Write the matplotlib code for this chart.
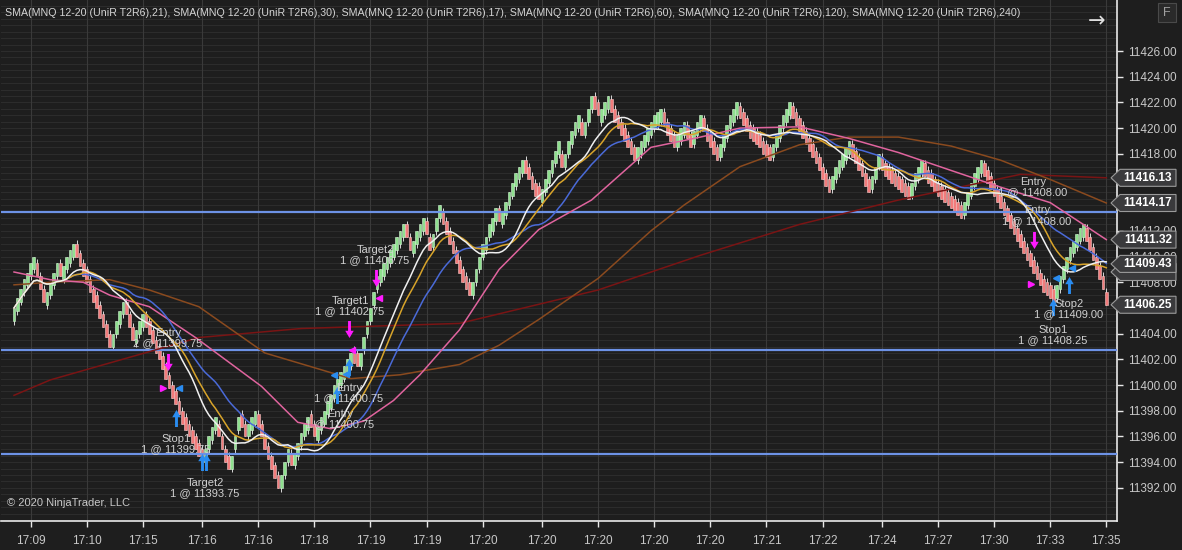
import numpy as np
import pandas as pd
import matplotlib
matplotlib.use("Agg")
import matplotlib.pyplot as plt
from matplotlib.patches import Polygon, Rectangle
from matplotlib.path import Path
from matplotlib import transforms

# ---- data ------------------------------------------------------------
base = 11400.0
# UniRenko bar closes, offset from 11400, one per bar (left to right)
close_off = [
    6.0, 6.75, 7.5, 8.25, 8.75, 9.5, 10.0,
    8.5, 7.5, 6.5,
    7.25, 8.0, 8.75, 9.5, 8.5, 9.25, 10.0, 10.5, 11.0,
    10.0, 9.25, 8.5, 8.0, 7.25, 6.5, 6.0, 5.25, 4.5, 3.75, 3.0,
    4.0, 5.0, 5.75, 6.5,
    5.5, 4.5, 3.5,
    4.25, 5.0, 5.5,
    4.5, 4.0, 3.25, 2.5, 2.0, 1.25, 0.5, -0.25, -1.0, -1.5, -2.25, -3.0, -3.5, -4.0, -4.5, -5.0, -5.5, -6.0,
    -5.0, -4.0, -3.25, -2.5,
    -4.0, -5.0, -6.0, -6.5,
    -5.5, -4.0, -2.5,
    -3.25, -4.0,
    -3.0, -2.5, -2.0,
    -3.25, -4.0, -5.0, -5.75, -6.5, -7.25, -8.0,
    -7.0, -6.0, -5.0,
    -6.25,
    -5.25, -4.5, -3.75, -3.0, -2.5,
    -3.25, -4.0,
    -3.25, -2.5, -2.0, -1.25, -0.75, 0.0, 0.5, 1.0, 1.5, 2.0, 2.5,
    1.75, 1.5,
    2.5, 3.75, 5.0, 6.0, 7.25, 8.5,
    9.0, 9.5, 10.0, 10.5, 11.0, 11.5, 12.0, 12.5,
    11.5, 10.5,
    11.25, 12.0, 12.5, 13.0,
    11.75, 10.5,
    11.75, 13.0, 14.0,
    12.5, 11.75, 11.0, 10.25, 9.5, 8.75, 8.0, 7.5, 7.0,
    8.0, 9.0, 10.0, 11.0, 11.5, 12.5, 13.0, 13.75, 12.75, 13.5, 14.25, 15.0, 15.75, 16.5, 17.0, 17.5,
    16.5, 16.0, 15.25, 14.75, 14.5,
    15.25, 16.0, 16.75, 17.5, 18.25, 19.0,
    17.0,
    18.0, 19.0, 19.75, 20.5, 21.0,
    19.5,
    20.5, 21.5, 22.5,
    21.5, 21.0,
    21.5, 22.0, 22.5,
    21.25, 20.5, 20.0, 19.5, 19.0, 18.5, 18.0, 17.5,
    18.5, 19.0, 19.5, 20.0, 20.5, 21.0, 21.25, 21.5,
    20.25, 19.5, 19.0, 18.5,
    19.5, 20.0, 20.5,
    19.25, 18.5,
    19.75, 20.5, 21.0,
    19.75, 19.0, 18.5, 18.0, 17.5,
    18.75, 19.5, 20.25, 21.0, 21.5, 22.0,
    20.75, 20.25, 19.75, 19.25, 19.0, 18.75, 18.5, 18.0, 17.75, 17.5,
    18.75, 19.5, 20.25, 21.0, 21.5, 22.0,
    20.75, 20.25, 19.75, 19.25, 18.75, 18.25, 17.75, 17.25, 16.75, 16.0, 15.5, 15.0,
    16.25, 17.0, 17.5, 18.0, 18.5, 19.0,
    17.75, 17.25, 16.75, 16.25, 15.5, 15.0,
    16.25, 17.0, 18.0,
    16.75, 16.25, 16.0, 15.75, 15.5, 15.25, 15.0, 14.75, 14.5,
    15.75, 16.5, 17.0, 17.5,
    16.25, 15.75, 15.5, 15.0, 14.75, 14.5, 14.25, 14.0, 13.75, 13.5, 13.25, 13.0,
    14.25, 15.0, 15.75, 16.5, 17.0, 17.5,
    16.25, 15.75, 15.25, 14.75, 14.25, 13.75, 13.25, 12.75, 12.25, 11.75, 11.25,
    10.75, 10.25, 9.75, 9.25, 8.75, 8.25, 7.75, 7.25, 7.0, 6.75, 6.5,
    7.75, 8.5, 9.25, 10.0, 10.75, 11.25, 11.75, 12.25, 12.5,
    11.25, 10.5, 9.75, 9.0, 8.25, 7.5, 6.25,
]

time_labels = ["17:09", "17:10", "17:15", "17:16", "17:16", "17:18", "17:19",
               "17:19", "17:20", "17:20", "17:20", "17:20", "17:20", "17:21",
               "17:22", "17:24", "17:27", "17:30", "17:33", "17:35"]
tick_bars = [5, 22, 39, 57, 74, 91, 108, 125, 142, 160, 177, 194, 211, 228,
             245, 263, 280, 297, 314, 331]

level_lines = [11413.5, 11402.75, 11394.6]

# slow SMAs (bar index, price)
sma60_bars = [0, 11, 21, 29, 41, 55, 75, 86, 96, 106, 115, 123, 135, 147, 159,
              175, 193, 208, 220, 238, 253, 268, 284, 299, 314, 331]
sma60_vals = [11408.8, 11408.2, 11408.0, 11407.0, 11406.1, 11403.7, 11399.9,
              11397.1, 11396.6, 11397.2, 11398.8, 11400.8, 11404.3, 11409.0,
              11412.1, 11414.4, 11418.5, 11419.3, 11420.0, 11420.1, 11419.2,
              11418.1, 11416.7, 11415.4, 11414.2, 11411.32]
sma120_bars = [0, 11, 29, 41, 56, 76, 93, 102, 117, 135, 147, 159, 177, 193,
               203, 220, 238, 253, 268, 284, 299, 314, 331]
sma120_vals = [11407.8, 11408.0, 11408.2, 11407.4, 11406.1, 11402.5, 11401.2,
               11400.5, 11400.8, 11401.6, 11403.1, 11405.1, 11408.3, 11412.0,
               11414.0, 11417.0, 11418.7, 11419.3, 11419.3, 11418.6, 11417.5,
               11416.0, 11414.17]
sma240_bars = [0, 11, 56, 87, 135, 177, 208, 238, 268, 305, 331]
sma240_vals = [11399.2, 11400.4, 11403.7, 11404.4, 11404.8, 11407.4, 11410.1,
               11412.5, 11414.4, 11416.4, 11416.13]

# right-axis price markers; the one at 11408.80 sits under 11409.43
marker_prices = [11416.13, 11414.17, 11411.32, 11408.80, 11409.43, 11406.25]
marker_shown = [True, True, True, False, True, True]
hidden_tick_labels = [11406, 11414, 11416]

sell_arrow_bars = [46.7, 101.5, 109.7, 309.1]
sell_arrow_prices = [11401.8, 11404.4, 11408.3, 11411.3]
buy_arrow_bars = [49.1, 56.9, 58.3, 101.5, 97.9, 319.7, 314.8]
buy_arrow_prices = [11397.4, 11394.0, 11394.0, 11401.4, 11399.2, 11407.8, 11406.1]
sell_tri_bars = [45.2, 308.2]
sell_tri_prices = [11399.8, 11407.9]
exit_tri_bars = [102.4, 110.6]
exit_tri_prices = [11402.7, 11406.8]
buy_tri_bars = [50.0, 97.0, 100.6, 315.8, 320.6]
buy_tri_prices = [11399.8, 11400.8, 11400.9, 11408.3, 11409.1]

trade_texts = ["Entry\n2 @ 11399.75", "Stop1\n1 @ 11399.75", "Target2\n1 @ 11393.75",
               "Entry\n1 @ 11400.75", "Entry\n1 @ 11400.75", "Target1\n1 @ 11402.75",
               "Target2\n1 @ 11406.75", "Entry\n1 @ 11408.00", "Entry\n1 @ 11408.00",
               "Stop2\n1 @ 11409.00", "Stop1\n1 @ 11408.25"]
trade_text_bars = [46.7, 49.1, 57.9, 101.5, 98.8, 101.8, 109.4, 308.8, 310.0,
                   319.7, 314.8]
trade_text_prices = [11403.67, 11395.42, 11391.99, 11399.39, 11397.36, 11406.16,
                     11410.12, 11415.42, 11413.2, 11405.92, 11403.9]

title_text = ", ".join("SMA(MNQ 12-20 (UniR T2R6),%d)" % p for p in [21, 30, 17, 60, 120, 240])

# ---- figure ----------------------------------------------------------
plt.rcParams['font.family'] = ['Liberation Sans', 'DejaVu Sans']
BG = "#1e1e1e"
W, H = 1182, 550
fig = plt.figure(figsize=(W / 100, H / 100), dpi=100, facecolor=BG)
ax = fig.add_axes([1 / W, 29 / H, 1116 / W, 521 / H], facecolor=BG)

closes = base + np.array(close_off)
n = len(closes)
idx = np.arange(n)
prev = np.r_[closes[0] - 0.5, closes[:-1]]
up = closes >= prev
opens = np.where(up, closes - 1.0, closes + 1.0)
lows = np.where(up, opens - 0.3, closes)
highs = np.where(up, closes, opens + 0.3)

ax.set_xlim(-3.94, 334.24)
ax.set_ylim(11389.42, 11429.97)

# grid
for v in np.arange(11389.5, 11430, 0.5):
    ax.axhline(v, color="#2c2c2c", lw=0.8, zorder=0)
for t in tick_bars:
    ax.axvline(t, color="#3a3a3a", lw=0.8, zorder=0)

ax.vlines(idx, lows, highs, color="#d8d8d8", lw=0.7, zorder=2)
ax.bar(idx, closes - opens, bottom=opens, width=0.82,
       color=np.where(up, "#8fe08f", "#f27c7c"),
       edgecolor=np.where(up, "#d6f6d6", "#f8c8c8"), linewidth=0.4, zorder=3)

for lv in level_lines:
    ax.axhline(lv, color="#6d92e6", lw=1.6, zorder=4)

s = pd.Series(closes)
ax.plot(sma240_bars, sma240_vals, color="#7a1414", lw=1.1, zorder=5)
ax.plot(sma120_bars, sma120_vals, color="#8a4a1e", lw=1.1, zorder=5)
ax.plot(sma60_bars, sma60_vals, color="#e0649e", lw=1.1, zorder=5)
ax.plot(idx, s.rolling(30, min_periods=1).mean(), color="#4a6ad8", lw=1.1, zorder=5)
ax.plot(idx, s.rolling(21, min_periods=1).mean(), color="#d8a42a", lw=1.1, zorder=5)
ax.plot(idx, s.rolling(17, min_periods=1).mean(), color="#f0f0f0", lw=1.1, zorder=5)

# trade marks
up_arrow = Path([(-0.17, -1), (0.17, -1), (0.17, 0.15), (0.5, 0.15), (0, 1),
                 (-0.5, 0.15), (-0.17, 0.15), (-0.17, -1)], closed=True)
down_arrow = Path([(x, -y) for x, y in up_arrow.vertices], closed=True)
ax.scatter(sell_arrow_bars, sell_arrow_prices, marker=down_arrow, s=150,
           color="#ff1aff", linewidths=0, zorder=7)
ax.scatter(buy_arrow_bars, buy_arrow_prices, marker=up_arrow, s=150,
           color="#2a8cf0", linewidths=0, zorder=7)
ax.plot(sell_tri_bars, sell_tri_prices, ">", color="#ff1aff", ms=5, ls="none", zorder=7)
ax.plot(exit_tri_bars, exit_tri_prices, "<", color="#ff1aff", ms=5, ls="none", zorder=7)
ax.plot(buy_tri_bars, buy_tri_prices, "<", color="#2a8cf0", ms=5, ls="none", zorder=7)
for txt, b, p in zip(trade_texts, trade_text_bars, trade_text_prices):
    ax.text(b, p, txt, color="#d0d0d0", fontsize=8, ha="center", va="center",
            linespacing=1.05, zorder=8)

# axes styling
for side in ["left", "top"]:
    ax.spines[side].set_visible(False)
for side in ["right", "bottom"]:
    ax.spines[side].set_color("#e8e8e8")
    ax.spines[side].set_linewidth(1.2)
ax.yaxis.tick_right()
yt = np.arange(11392, 11427, 2)
ax.set_yticks(yt)
ax.set_yticklabels(["" if v in hidden_tick_labels else "%.2f" % v for v in yt])
ax.set_xticks(tick_bars)
ax.set_xticklabels(time_labels)
ax.tick_params(axis="both", colors="#e8e8e8", labelcolor="#c8c8c8",
               labelsize=8.5, length=4, width=1)
ax.tick_params(axis="x", pad=6)
ax.tick_params(axis="y", pad=4)

# price markers on the right axis
blend = transforms.blended_transform_factory(fig.transFigure, ax.transData)
hh = 8.5 / 12.85
for p, shown in zip(marker_prices, marker_shown):
    pts = [(1111 / W, p), (1120 / W, p + hh), (1176 / W, p + hh),
           (1176 / W, p - hh), (1120 / W, p - hh)]
    ax.add_patch(Polygon(pts, closed=True, transform=blend, clip_on=False,
                         facecolor="#3a3a3c", edgecolor="#9a9a9a", lw=0.8, zorder=10))
    if shown:
        ax.text(1148 / W, p, "%.2f" % p, transform=blend, color="white",
                fontsize=8.5, fontweight="bold", ha="center", va="center",
                clip_on=False, zorder=11)

fig.text(5 / W, 1 - 13 / H, title_text, color="#d4d4d4", fontsize=7.7, va="center")
fig.text(7 / W, 1 - 503 / H, "\u00a9 2020 NinjaTrader, LLC", color="#c8c8c8",
         fontsize=8, va="center")
fig.text(1097 / W, 1 - 21 / H, "\u2192", color="#e0e0e0", fontsize=15,
         ha="center", va="center", family=["DejaVu Sans"])
fig.patches.append(Rectangle((1158 / W, 1 - 22 / H), 18 / W, 19 / H,
                             transform=fig.transFigure, facecolor="#2a2a2a",
                             edgecolor="#4a4a4a", lw=0.8))
fig.text(1167 / W, 1 - 12.5 / H, "F", color="#a0a0a0", fontsize=9,
         ha="center", va="center")

fig.savefig("out.png", dpi=100, facecolor=BG)
